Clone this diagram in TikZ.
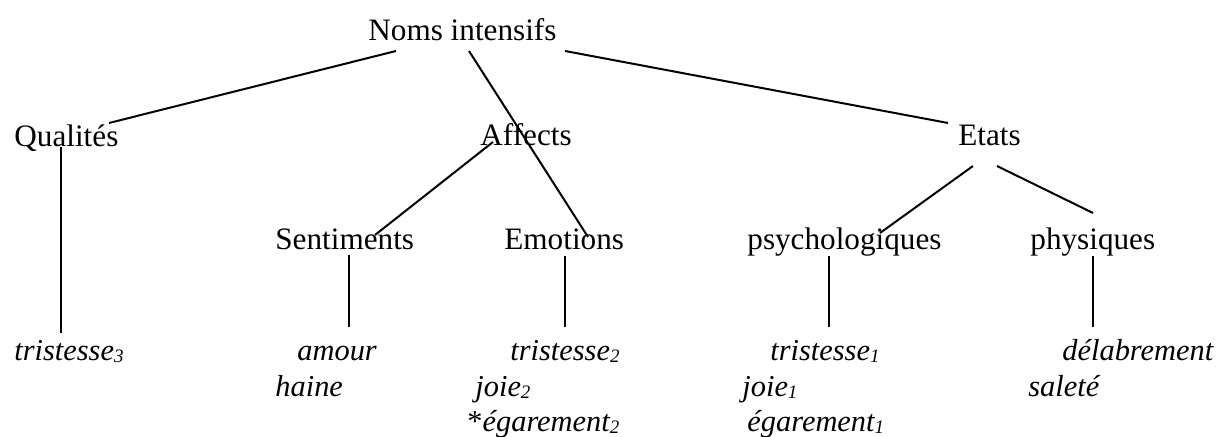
\documentclass[tikz,border=0pt]{standalone}
\usepackage{fontspec}
\setmainfont{Liberation Serif}
\usetikzlibrary{calc}
\newcommand{\sens}[1]{\raisebox{-1pt}{\fontsize{9.5}{9.5}\selectfont #1}}
\tikzset{
    cat/.style={anchor=base west, inner sep=0pt, font=\fontsize{15.6}{18}\selectfont},
    lex/.style={anchor=base west, inner sep=0pt, font=\fontsize{15.2}{18}\selectfont\itshape},
    branch/.style={line width=1pt}
}
\begin{document}
\begin{tikzpicture}[x=0.5pt, y=-0.5pt]
    \useasboundingbox (0,0) rectangle (1216,437);
    % categories
    \node[cat] (noms) at (368,41) {Noms intensifs};
    \node[cat] (qual) at (14,147) {Qualités};
    \node[cat] (aff) at (480,146) {Affects};
    \node[cat] (etats) at (958,146) {Etats};
    \node[cat] (sent) at (275,250) {Sentiments};
    \node[cat] (emo) at (504,250) {Emotions};
    \node[cat] (psy) at (747,250) {psychologiques};
    \node[cat] (phy) at (1030,250) {physiques};
    % examples
    \node[lex] (trist3) at (14,361) {tristesse\sens{3}};
    \node[lex] (amour) at (297,361) {amour};
    \node[lex] (haine) at (275,397) {haine};
    \node[lex] (trist2) at (510,361) {tristesse\sens{2}};
    \node[lex] (joie2) at (475,397) {joie\sens{2}};
    \node[lex] (egar2) at (467,432) {\upshape*\itshape égarement\sens{2}};
    \node[lex] (trist1) at (770,361) {tristesse\sens{1}};
    \node[lex] (joie1) at (742,397) {joie\sens{1}};
    \node[lex] (egar1) at (747,432) {égarement\sens{1}};
    \node[lex] (delab) at (1062,361) {délabrement};
    \node[lex] (salete) at (1028,397) {saleté};
    % branches
    \draw[branch] ($(noms.base west)+(28,10)$) -- ($(qual.base west)+(95,-24)$);
    \draw[branch] ($(noms.base west)+(101,10)$) -- ($(emo.base west)+(84,-13)$);
    \draw[branch] ($(noms.base west)+(197,10)$) -- ($(etats.base west)+(-10,-23)$);
    \draw[branch] ($(qual.base west)+(47,0)$) -- ($(trist3.base west)+(47,-28)$);
    \draw[branch] ($(aff.base west)+(13,-4)$) -- ($(sent.base west)+(100,-15)$);
    \draw[branch] ($(sent.base west)+(74,5)$) -- ($(amour.base west)+(52,-34)$);
    \draw[branch] ($(emo.base west)+(61,6)$) -- ($(trist2.base west)+(55,-34)$);
    \draw[branch] ($(etats.base west)+(15,20)$) -- ($(psy.base west)+(133,-17)$);
    \draw[branch] ($(etats.base west)+(39,20)$) -- ($(phy.base west)+(63,-37)$);
    \draw[branch] ($(psy.base west)+(82,6)$) -- ($(trist1.base west)+(59,-34)$);
    \draw[branch] ($(phy.base west)+(63,6)$) -- ($(delab.base west)+(31,-34)$);
\end{tikzpicture}
\end{document}
